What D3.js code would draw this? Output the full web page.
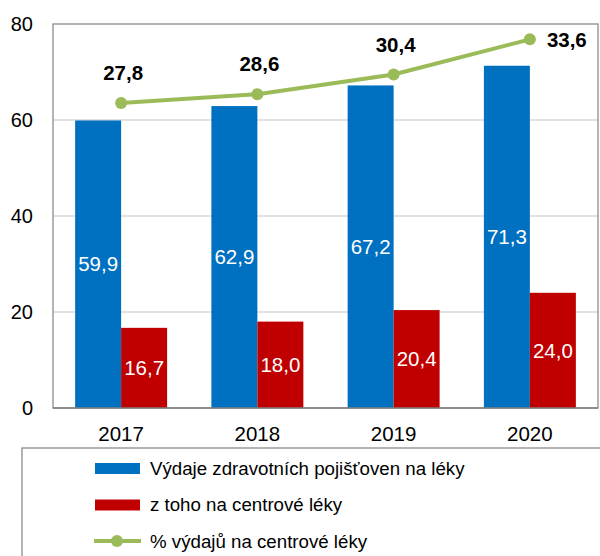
<!DOCTYPE html>
<html>
<head>
<meta charset="utf-8">
<script src="https://cdn.jsdelivr.net/npm/d3@7"></script>
<style>
  body { margin: 0; background: #fff; }
  text { font-family: "Liberation Sans", Arial, sans-serif; }
</style>
</head>
<body>
<svg id="chart" width="600" height="556"></svg>
<script>
const years = ["2017", "2018", "2019", "2020"];
const totalSpend = [59.9, 62.9, 67.2, 71.3];
const centreSpend = [16.7, 18.0, 20.4, 24.0];
const centreShare = [27.8, 28.6, 30.4, 33.6];
const yTicks = [0, 20, 40, 60, 80];
const legendLabels = ["Výdaje zdravotních pojišťoven na léky", "z toho na centrové léky", "% výdajů na centrové léky"];

const blue = "#0070C0", red = "#C00000", green = "#9BBB59";
const fmt = v => d3.format(".1f")(v).replace(".", ",");

const svg = d3.select("#chart");
const margin = {left: 53, right: 2, top: 24, bottom: 148};
const W = 600, H = 556;
const plotW = W - margin.left - margin.right;
const plotH = H - margin.top - margin.bottom;

const g = svg.append("g").attr("transform", "translate(" + margin.left + "," + margin.top + ")");

const x = d3.scaleBand().domain(years).range([0, plotW]).paddingInner(0.325).paddingOuter(0.1625);
const xSub = d3.scaleBand().domain([0, 1]).range([0, x.bandwidth()]);
const y = d3.scaleLinear().domain([0, 80]).range([plotH, 0]);
const y2 = d3.scaleLinear().domain([0, 35]).range([plotH, 0]);

// gridlines
g.selectAll(".grid").data(yTicks.filter(d => d > 0 && d < 80)).enter().append("line")
  .attr("x1", 0).attr("x2", plotW)
  .attr("y1", d => y(d)).attr("y2", d => y(d))
  .attr("stroke", "#d9d9d9").attr("stroke-width", 1.3);

// plot border
g.append("rect").attr("x", 0).attr("y", 0).attr("width", plotW).attr("height", plotH)
  .attr("fill", "none").attr("stroke", "#8c8c8c").attr("stroke-width", 1.3);

// bars
const series = [totalSpend, centreSpend];
const colors = [blue, red];
series.forEach((vals, si) => {
  g.selectAll(".bar" + si).data(vals).enter().append("rect")
    .attr("x", (d, i) => x(years[i]) + xSub(si))
    .attr("width", xSub.bandwidth())
    .attr("y", d => y(d))
    .attr("height", d => plotH - y(d))
    .attr("fill", colors[si]);
  g.selectAll(".blabel" + si).data(vals).enter().append("text")
    .attr("x", (d, i) => x(years[i]) + xSub(si) + xSub.bandwidth() / 2)
    .attr("y", d => y(d / 2))
    .attr("dy", "0.35em")
    .attr("text-anchor", "middle")
    .attr("fill", "#fff")
    .attr("font-size", 20.5)
    .text(fmt);
});

// x axis line
g.append("line").attr("x1", 0).attr("x2", plotW).attr("y1", plotH).attr("y2", plotH)
  .attr("stroke", "#7f7f7f").attr("stroke-width", 1.5);

// line series
const cx = (d, i) => x(years[i]) + x.bandwidth() / 2;
g.append("path").datum(centreShare)
  .attr("d", d3.line().x(cx).y(d => y2(d)))
  .attr("fill", "none").attr("stroke", green).attr("stroke-width", 4);
g.selectAll(".pt").data(centreShare).enter().append("circle")
  .attr("cx", cx).attr("cy", d => y2(d)).attr("r", 6).attr("fill", green);
g.selectAll(".plabel").data(centreShare).enter().append("text")
  .attr("x", (d, i) => i === 3 ? cx(d, i) + 17 : cx(d, i) + 2)
  .attr("y", (d, i) => i === 3 ? y2(d) : y2(d) - 30)
  .attr("dy", "0.35em")
  .attr("text-anchor", (d, i) => i === 3 ? "start" : "middle")
  .attr("font-size", 20.5).attr("font-weight", "bold").attr("fill", "#000")
  .text(fmt);

// y axis labels
g.selectAll(".ytick").data(yTicks).enter().append("text")
  .attr("x", -20).attr("y", d => y(d)).attr("dy", "0.35em")
  .attr("text-anchor", "end").attr("font-size", 20).attr("fill", "#000")
  .text(d => d);

// x axis labels
g.selectAll(".xtick").data(years).enter().append("text")
  .attr("x", d => x(d) + x.bandwidth() / 2).attr("y", plotH + 33)
  .attr("text-anchor", "middle").attr("font-size", 20.5).attr("fill", "#000")
  .text(d => d);

// legend
const lg = svg.append("g");
lg.append("rect").attr("x", 22).attr("y", 448).attr("width", 600).attr("height", 120)
  .attr("fill", "#fff").attr("stroke", "#8c8c8c").attr("stroke-width", 1.3);
legendLabels.forEach((t, i) => {
  const ly = 468 + i * 36.5;
  if (i < 2) {
    lg.append("rect").attr("x", 95).attr("y", ly - 5).attr("width", 45).attr("height", 11).attr("fill", colors[i]);
  } else {
    lg.append("line").attr("x1", 94).attr("x2", 141).attr("y1", ly).attr("y2", ly)
      .attr("stroke", green).attr("stroke-width", 4);
    lg.append("circle").attr("cx", 117).attr("cy", ly).attr("r", 6).attr("fill", green);
  }
  lg.append("text").attr("x", 150).attr("y", ly).attr("dy", "0.35em")
    .attr("font-size", 18.7).attr("fill", "#000").text(t);
});
</script>
</body>
</html>
